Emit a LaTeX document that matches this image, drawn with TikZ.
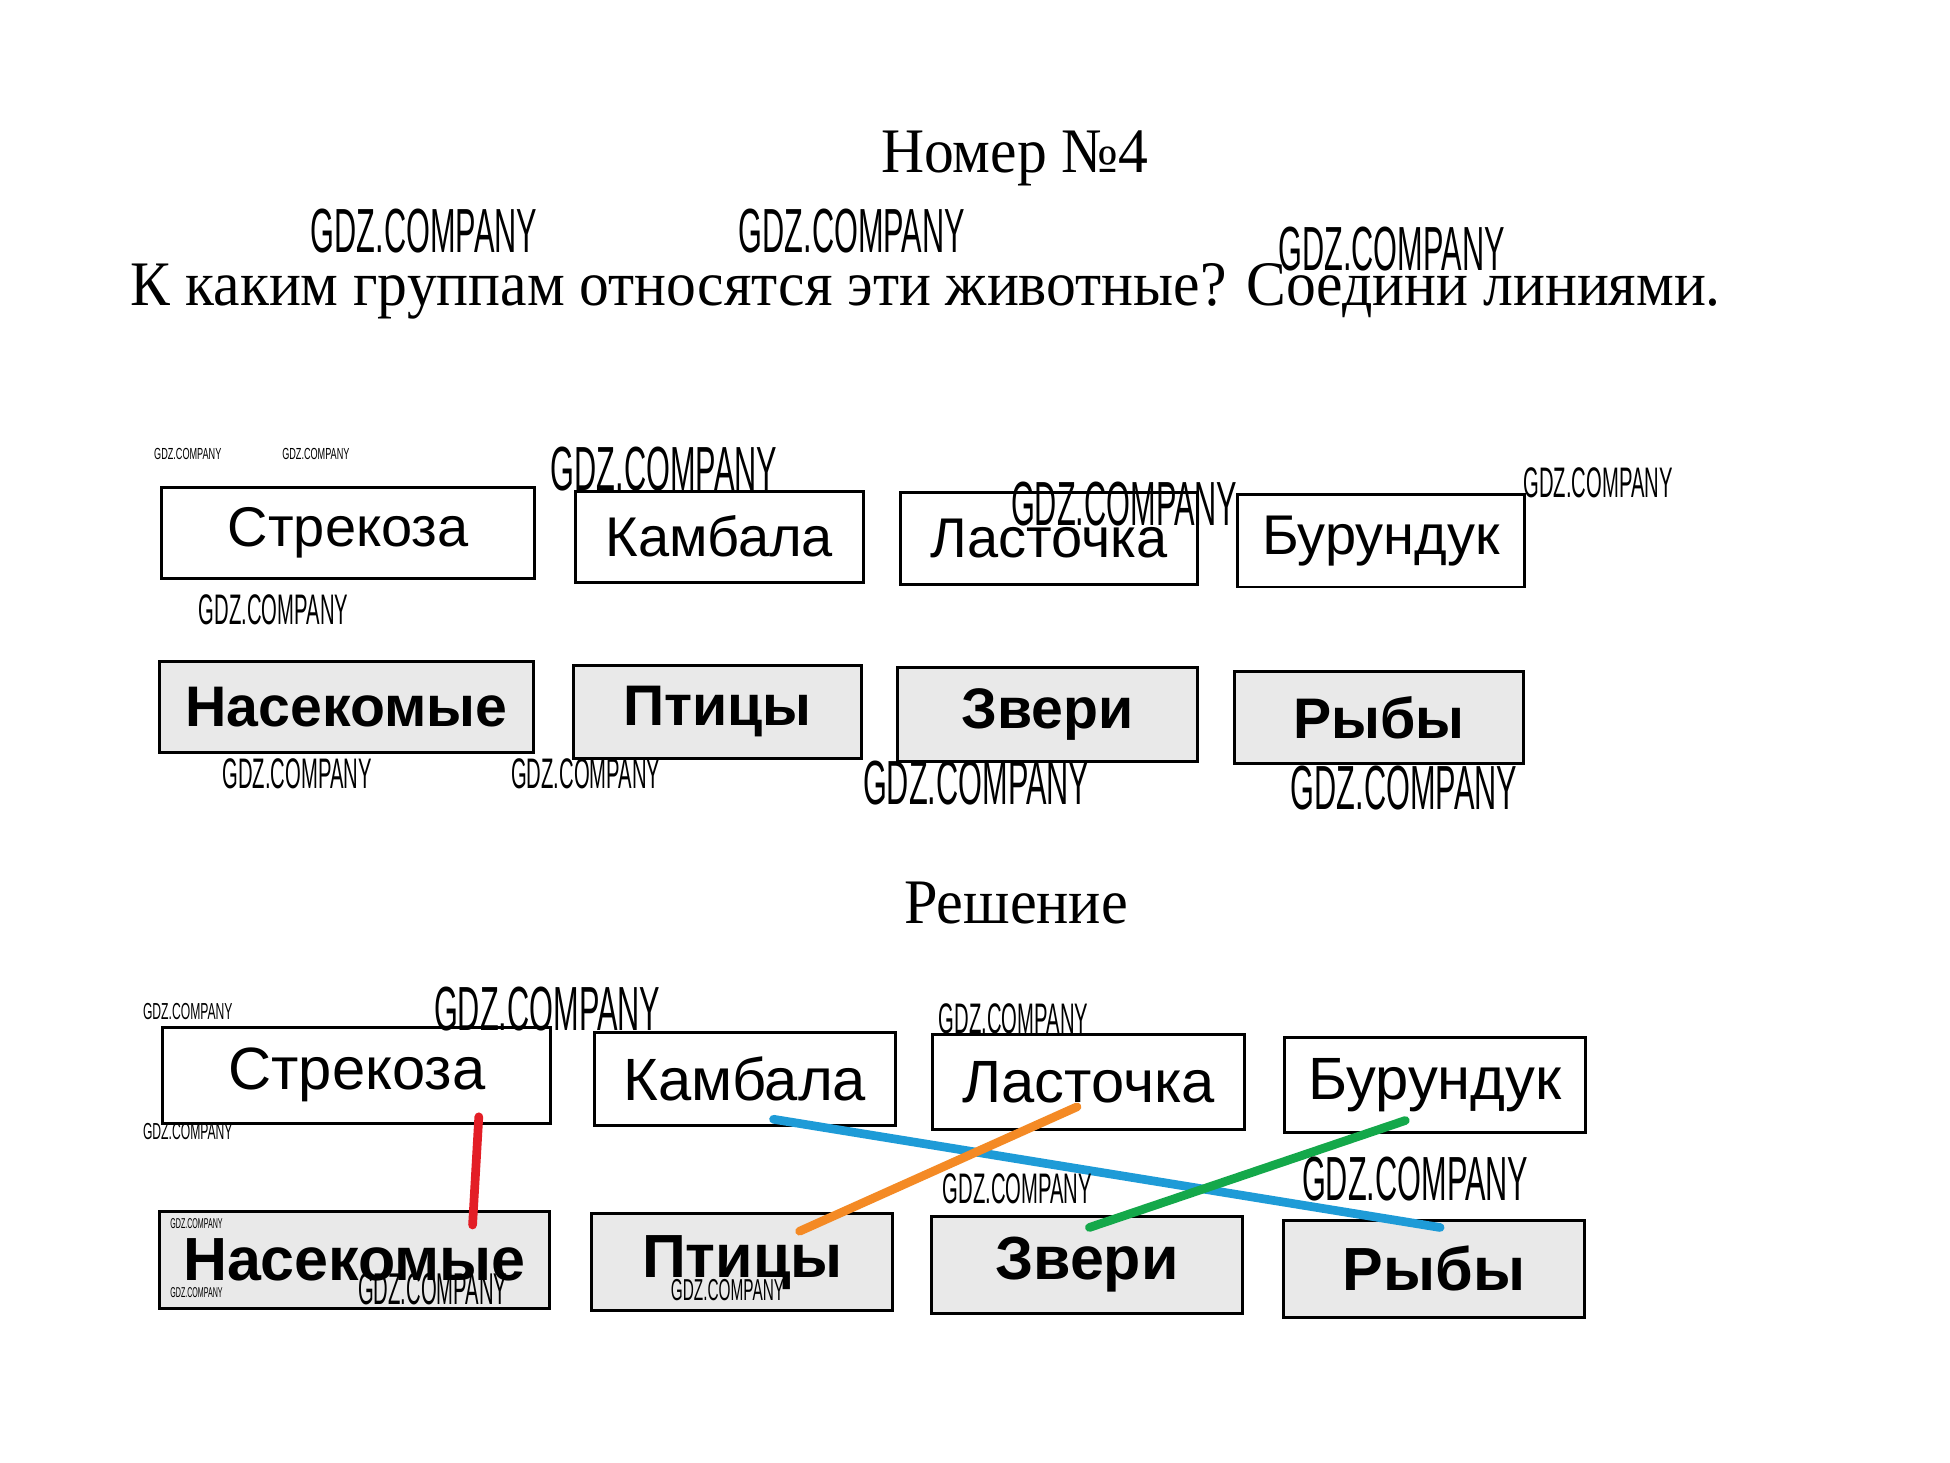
\documentclass[tikz,border=0pt]{standalone}
\usepackage{fontspec}
\usepackage{graphicx}
\setmainfont{Liberation Serif}
\setsansfont{Liberation Sans}
\definecolor{lnred}{HTML}{E31E26}
\definecolor{lnblue}{HTML}{1E9BD7}
\definecolor{lnorange}{HTML}{F48A25}
\definecolor{lngreen}{HTML}{14A84A}
\definecolor{grpfill}{HTML}{E9E9E9}
\newcommand\wmtext[2]{\resizebox{#1pt}{#2pt}{\sffamily GDZ.COMPANY}}
\tikzset{
  animal/.style={draw=black, line width=2.4pt, fill=white, inner sep=0pt},
  grp/.style={draw=black, line width=2.4pt, fill=grpfill, inner sep=0pt},
  fa/.style={font=\sffamily\fontsize{45}{50}\selectfont},
  fb/.style={font=\sffamily\fontsize{48}{52}\selectfont},
  ga/.style={font=\sffamily\bfseries\fontsize{46}{50}\selectfont},
  gb/.style={font=\sffamily\bfseries\fontsize{49}{52}\selectfont},
  heading/.style={font=\rmfamily\fontsize{51}{56}\selectfont, inner sep=0pt},
  wm/.style={inner sep=0pt, text=black},
  link/.style={line width=7pt, line cap=round},
}
\begin{document}
\begin{tikzpicture}[x=1pt, y=-1pt]
\useasboundingbox[fill=white] (0,0) rectangle (1568,1176);

% headings
\node[heading] (title) at (816,127) {\scalebox{0.94}[1]{Номер №4}};
\node[heading, anchor=base west] (question) at (105,246) {\scalebox{0.94}[1]{К каким группам относятся эти животные? Соедини линиями.}};
\node[heading] (solution) at (817,726) {\scalebox{0.95}[1]{Решение}};

% task boxes
\node[animal, fa, minimum width=300pt, minimum height=73pt] (a1) at (280,428.5) {Стрекоза};
\node[animal, fa, minimum width=231pt, minimum height=73pt] (a2) at (578.5,431.5) {Камбала};
\node[animal, fa, minimum width=239pt, minimum height=74pt] (a3) at (843.5,433) {Ласточка};
\node[animal, fa, minimum width=231pt, minimum height=74pt] (a4) at (1110.5,435) {Бурундук};
\node[grp, ga, minimum width=301pt, minimum height=73pt] (b1) at (278.5,568.5) {Насекомые};
\node[grp, ga, minimum width=232pt, minimum height=75pt] (b2) at (577,572.5) {Птицы};
\node[grp, ga, minimum width=241pt, minimum height=75pt] (b3) at (842.5,574.5) {Звери};
\node[grp, ga, minimum width=232pt, minimum height=74pt] (b4) at (1109,577) {Рыбы};

% solution boxes
\node[animal, fb, minimum width=312pt, minimum height=77pt] (c1) at (287,864.5) {Стрекоза};
\node[animal, fb, minimum width=242pt, minimum height=75pt] (c2) at (599,867.5) {Камбала};
\node[animal, fb, minimum width=251pt, minimum height=76pt] (c3) at (875.5,870) {Ласточка};
\node[animal, fb, minimum width=242pt, minimum height=77pt] (c4) at (1154,872.5) {Бурундук};
\node[grp, gb, minimum width=314pt, minimum height=78pt] (d1) at (285,1013) {Насекомые};
\node[grp, gb, minimum width=242pt, minimum height=78pt] (d2) at (597,1015) {Птицы};
\node[grp, gb, minimum width=250pt, minimum height=78pt] (d3) at (874,1017) {Звери};
\node[grp, gb, minimum width=242pt, minimum height=78pt] (d4) at (1153,1020) {Рыбы};

% connector ends
\coordinate (redS) at (385,898);
\coordinate (redE) at (380,985);
\coordinate (blueS) at (622,900);
\coordinate (blueE) at (1158,987);
\coordinate (orS) at (866,890);
\coordinate (orE) at (643,990);
\coordinate (grS) at (1130,901);
\coordinate (grE) at (876,987);
\draw[link, lnred] (redS) -- (redE);
\draw[link, lnblue] (blueS) -- (blueE);
\draw[link, lnorange] (orS) -- (orE);
\draw[link, lngreen] (grS) -- (grE);

% watermarks
\node[wm] (w1) at (341,186) {\wmtext{182}{35}};
\node[wm] (w2) at (685,186) {\wmtext{182}{35}};
\node[wm] (w3) at (1119,200) {\wmtext{182}{35}};
\node[wm] (w4) at (151,365) {\wmtext{54}{9}};
\node[wm] (w5) at (254,365) {\wmtext{54}{9}};
\node[wm] (w6) at (534,377) {\wmtext{182}{35}};
\node[wm] (w7) at (904,405) {\wmtext{182}{35}};
\node[wm] (w8) at (1285,388) {\wmtext{120}{24}};
\node[wm] (w9) at (220,490) {\wmtext{120}{24}};
\node[wm] (w10) at (239,622) {\wmtext{120}{24}};
\node[wm] (w11) at (471,622) {\wmtext{120}{24}};
\node[wm] (w12) at (785,630) {\wmtext{182}{35}};
\node[wm] (w13) at (1129,634) {\wmtext{182}{35}};
\node[wm] (w14) at (151,813) {\wmtext{72}{13}};
\node[wm] (w15) at (440,811) {\wmtext{182}{35}};
\node[wm] (w16) at (815,819) {\wmtext{120}{24}};
\node[wm] (w17) at (151,910) {\wmtext{72}{13}};
\node[wm] (w18) at (818,956) {\wmtext{120}{24}};
\node[wm] (w19) at (1138,948) {\wmtext{182}{35}};
\node[wm] (w20) at (158,984) {\wmtext{42}{8}};
\node[wm] (w21) at (158,1039) {\wmtext{42}{8}};
\node[wm] (w22) at (348,1037) {\wmtext{120}{25}};
\node[wm] (w23) at (585,1037) {\wmtext{91}{17}};
\end{tikzpicture}
\end{document}
